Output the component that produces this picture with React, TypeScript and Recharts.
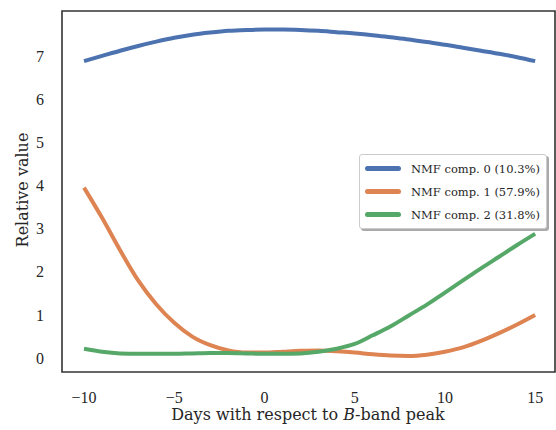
import {
  LineChart,
  Line,
  XAxis,
  YAxis,
  ReferenceArea,
  Label,
} from "recharts";

const days = [-10, -9, -8, -7, -6, -5, -4, -3, -2, -1, 0, 1, 2, 3, 4, 5, 6, 7, 8, 9, 10, 11, 12, 13, 14, 15];
const comp0 = [6.88, 7.0, 7.12, 7.23, 7.33, 7.42, 7.49, 7.54, 7.58, 7.6, 7.61, 7.61, 7.6, 7.58, 7.55, 7.52, 7.48, 7.43, 7.38, 7.32, 7.26, 7.19, 7.12, 7.05, 6.97, 6.88];
const comp1 = [3.95, 3.25, 2.5, 1.8, 1.25, 0.82, 0.5, 0.3, 0.18, 0.13, 0.13, 0.15, 0.17, 0.18, 0.16, 0.13, 0.09, 0.06, 0.05, 0.08, 0.15, 0.25, 0.4, 0.58, 0.78, 1.0];
const comp2 = [0.22, 0.15, 0.11, 0.1, 0.1, 0.1, 0.11, 0.12, 0.12, 0.11, 0.1, 0.1, 0.11, 0.15, 0.22, 0.33, 0.53, 0.74, 0.99, 1.24, 1.52, 1.8, 2.08, 2.35, 2.62, 2.88];
const seriesNames = ["NMF comp. 0 (10.3%)", "NMF comp. 1 (57.9%)", "NMF comp. 2 (31.8%)"];
const colors = ["#4c72b0", "#dd8452", "#55a868"];
const xTicks = [-10, -5, 0, 5, 10, 15];
const yTicks = [0, 1, 2, 3, 4, 5, 6, 7];

const data = days.map((d, i) => ({ day: d, c0: comp0[i], c1: comp1[i], c2: comp2[i] }));

const tickFont = "'Liberation Serif', serif";
const labelFont = "'DejaVu Serif', serif";
const textColor = "#262626";

const X_MIN = -11.22;
const X_MAX = 16.1;
const Y_MIN = -0.32;
const Y_MAX = 8.04;

function MyLegend() {
  return (
    <div
      style={{
        position: "absolute",
        left: 359,
        top: 154,
        background: "#fff",
        border: "1px solid #ccc",
        borderRadius: 3,
        boxShadow: "2px 2px 0 #aaa",
        padding: "2px 6px 2px 5px",
        fontFamily: labelFont,
        fontSize: 11.5,
        color: textColor,
      }}
    >
      {seriesNames.map((n, i) => (
        <div key={n} style={{ display: "flex", alignItems: "center", height: 23 }}>
          <div style={{ width: 36, height: 5, borderRadius: 3, background: colors[i], marginRight: 10 }} />
          <span>{n}</span>
        </div>
      ))}
    </div>
  );
}

export default function App() {
  return (
    <div style={{ position: "absolute", left: 0, top: 0, width: 556, height: 430, background: "#fff" }}>
      <LineChart width={556} height={430} data={data} margin={{ top: 11, right: 1, left: 0, bottom: 0 }}>
        <XAxis
          dataKey="day"
          type="number"
          domain={[X_MIN, X_MAX]}
          ticks={xTicks}
          allowDataOverflow
          axisLine={false}
          tickLine={false}
          tickMargin={14}
          height={58}
          tick={{ fill: textColor, fontSize: 16, fontFamily: tickFont }}
          tickFormatter={(v: number) => (v < 0 ? "\u2212" + Math.abs(v) : String(v))}
        >
          <Label
            content={() => (
              <text x={308} y={420} textAnchor="middle" fill={textColor} fontSize={16} fontFamily={labelFont}>
                Days with respect to <tspan fontStyle="italic">B</tspan>-band peak
              </text>
            )}
          />
        </XAxis>
        <YAxis
          type="number"
          domain={[Y_MIN, Y_MAX]}
          ticks={yTicks}
          allowDataOverflow
          axisLine={false}
          tickLine={false}
          tickMargin={12}
          width={62}
          tick={{ fill: textColor, fontSize: 16, fontFamily: tickFont }}
        >
          <Label
            content={() => (
              <text
                x={28}
                y={190}
                transform="rotate(-90 28 190)"
                textAnchor="middle"
                fill={textColor}
                fontSize={16}
                fontFamily={labelFont}
              >
                Relative value
              </text>
            )}
          />
        </YAxis>
        <ReferenceArea
          x1={X_MIN}
          x2={X_MAX}
          y1={Y_MIN}
          y2={Y_MAX}
          fill="none"
          stroke="#333"
          strokeWidth={1.6}
          ifOverflow="visible"
        />
        <Line type="monotone" dataKey="c0" name={seriesNames[0]} stroke={colors[0]} strokeWidth={4} dot={false} isAnimationActive={false} />
        <Line type="monotone" dataKey="c1" name={seriesNames[1]} stroke={colors[1]} strokeWidth={4} dot={false} isAnimationActive={false} />
        <Line type="monotone" dataKey="c2" name={seriesNames[2]} stroke={colors[2]} strokeWidth={4} dot={false} isAnimationActive={false} />
      </LineChart>
      <MyLegend />
    </div>
  );
}
